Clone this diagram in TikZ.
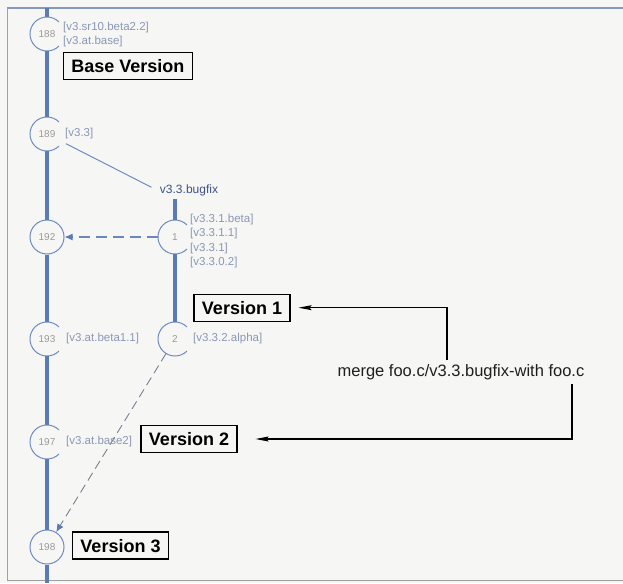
\documentclass[tikz,border=0pt]{standalone}
\usepackage{fontspec}
\setmainfont{Liberation Sans}
\usetikzlibrary{arrows.meta,calc}
\definecolor{bgc}{HTML}{F6F6F4}
\definecolor{trunkc}{HTML}{5A7BB8}
\definecolor{ringc}{HTML}{6F8BC2}
\definecolor{numc}{HTML}{9A9A9A}
\definecolor{tagc}{HTML}{8A97B6}
\definecolor{branchtxt}{HTML}{3D5285}
\definecolor{framec}{HTML}{8397BF}
\definecolor{bottomc}{HTML}{A0A0A0}
\definecolor{dashc}{HTML}{7A8194}
\definecolor{dashb}{HTML}{6A88C0}
\begin{document}
\begin{tikzpicture}[x=1pt,y=-1pt,
  rev/.style={circle,minimum size=34pt,inner sep=0pt,text=numc,font=\fontsize{10}{11}\selectfont},
  fullrev/.style={rev,draw=ringc,line width=1pt},
  trunk/.style={line width=3.2pt,draw=trunkc},
  ring/.style={draw=ringc,line width=1pt},
  tag/.style={anchor=west,inner sep=0pt,text=tagc,align=left,font=\fontsize{11.5}{14.5}\selectfont},
  verbox/.style={draw=black,line width=1.1pt,font=\fontsize{18}{20}\selectfont\bfseries,
     inner xsep=8pt,inner ysep=7pt,text height=13pt,text depth=0pt},
  blk/.style={draw=black,line width=1.1pt,-{Stealth[length=13pt,width=5pt,inset=2pt]}},
  mergedash/.style={line width=1.1pt,dash pattern=on 11pt off 6pt,-{Latex[length=8pt,width=7pt,color=trunkc]}}
]
% background and frame
\fill[bgc] (0,0) rectangle (623,583);
\useasboundingbox (0,0) rectangle (623,583);
\draw[framec,line width=1.3pt] (7,8) -- (623,8);
\draw[bottomc,line width=1pt] (7,8) -- (7,580) -- (623,580);

% revision nodes on trunk
\node[rev] (c188) at (47,34) {188};
\node[rev] (c189) at (47,134) {189};
\node[fullrev] (c192) at (47,237) {192};
\node[rev] (c193) at (47,339) {193};
\node[rev] (c197) at (47,442) {197};
\node[fullrev] (c198) at (47,547) {198};
% branch nodes
\node[rev] (c1) at (175,237) {1};
\node[rev] (c2) at (175,339) {2};

% open rings
\foreach \n in {c188,c189,c193,c197,c1,c2}
  \draw[ring] ($(\n.center)+(45:17)$) arc (45:315:17);

% trunk
\coordinate (ttop) at (47,8);
\coordinate (tbot) at (47,583);
\draw[trunk] (ttop) -- (c188);
\draw[trunk] (c188) -- (c189);
\draw[trunk] (c189) -- (c192);
\draw[trunk] (c192) -- (c193);
\draw[trunk] (c193) -- (c197);
\draw[trunk] (c197) -- (c198);
\draw[trunk] (c198) -- (tbot);

% branch
\node[text=branchtxt,font=\fontsize{12}{14}\selectfont,inner sep=3pt] (bugfix) at (189,190) {v3.3.bugfix};
\coordinate (btop) at (175,199);
\draw[trunk] (btop) -- (c1);
\draw[trunk] (c1) -- (c2);
\draw[draw=ringc,line width=1pt,shorten <=4pt,shorten >=6pt] (c189) -- (bugfix.west);

% tags
\node[tag] (t188) at (63,34.5) {{[}v3.sr10.beta2.2{]}\\{[}v3.at.base{]}};
\node[tag] (t189) at (65,134) {{[}v3.3{]}};
\node[tag] (t1) at (190,241) {{[}v3.3.1.beta{]}\\{[}v3.3.1.1{]}\\{[}v3.3.1{]}\\{[}v3.3.0.2{]}};
\node[tag] (t193) at (66,339) {{[}v3.at.beta1.1{]}};
\node[tag] (t2) at (193,339) {{[}v3.3.2.alpha{]}};
\node[tag] (t197) at (66,442) {{[}v3.at.base2{]}};

% merges
\draw[mergedash,draw=dashb] (c1) -- (c192);
\draw[mergedash,draw=dashc,line width=0.9pt,dash pattern=on 9pt off 5pt] (c2) -- (c198);

% version boxes
\node[verbox] (vbase) at (127.8,66.2) {Base Version};
\node[verbox] (v1) at (242,307.7) {Version 1};
\node[verbox] (v2) at (189,439) {Version 2};
\node[verbox] (v3) at (120.5,545.5) {Version 3};

% merge command
\node[font=\fontsize{16.5}{18}\selectfont,text=black!88,inner sep=4pt] (merge) at (461,372) {merge foo.c/v3.3.bugfix-with foo.c};
\draw[blk,shorten >=8pt] ($(merge.north)+(-14,0)$) |- (v1.east);
\draw[blk,shorten >=18pt] ($(merge.south)+(111,0)$) |- (v2.east);
\end{tikzpicture}
\end{document}
